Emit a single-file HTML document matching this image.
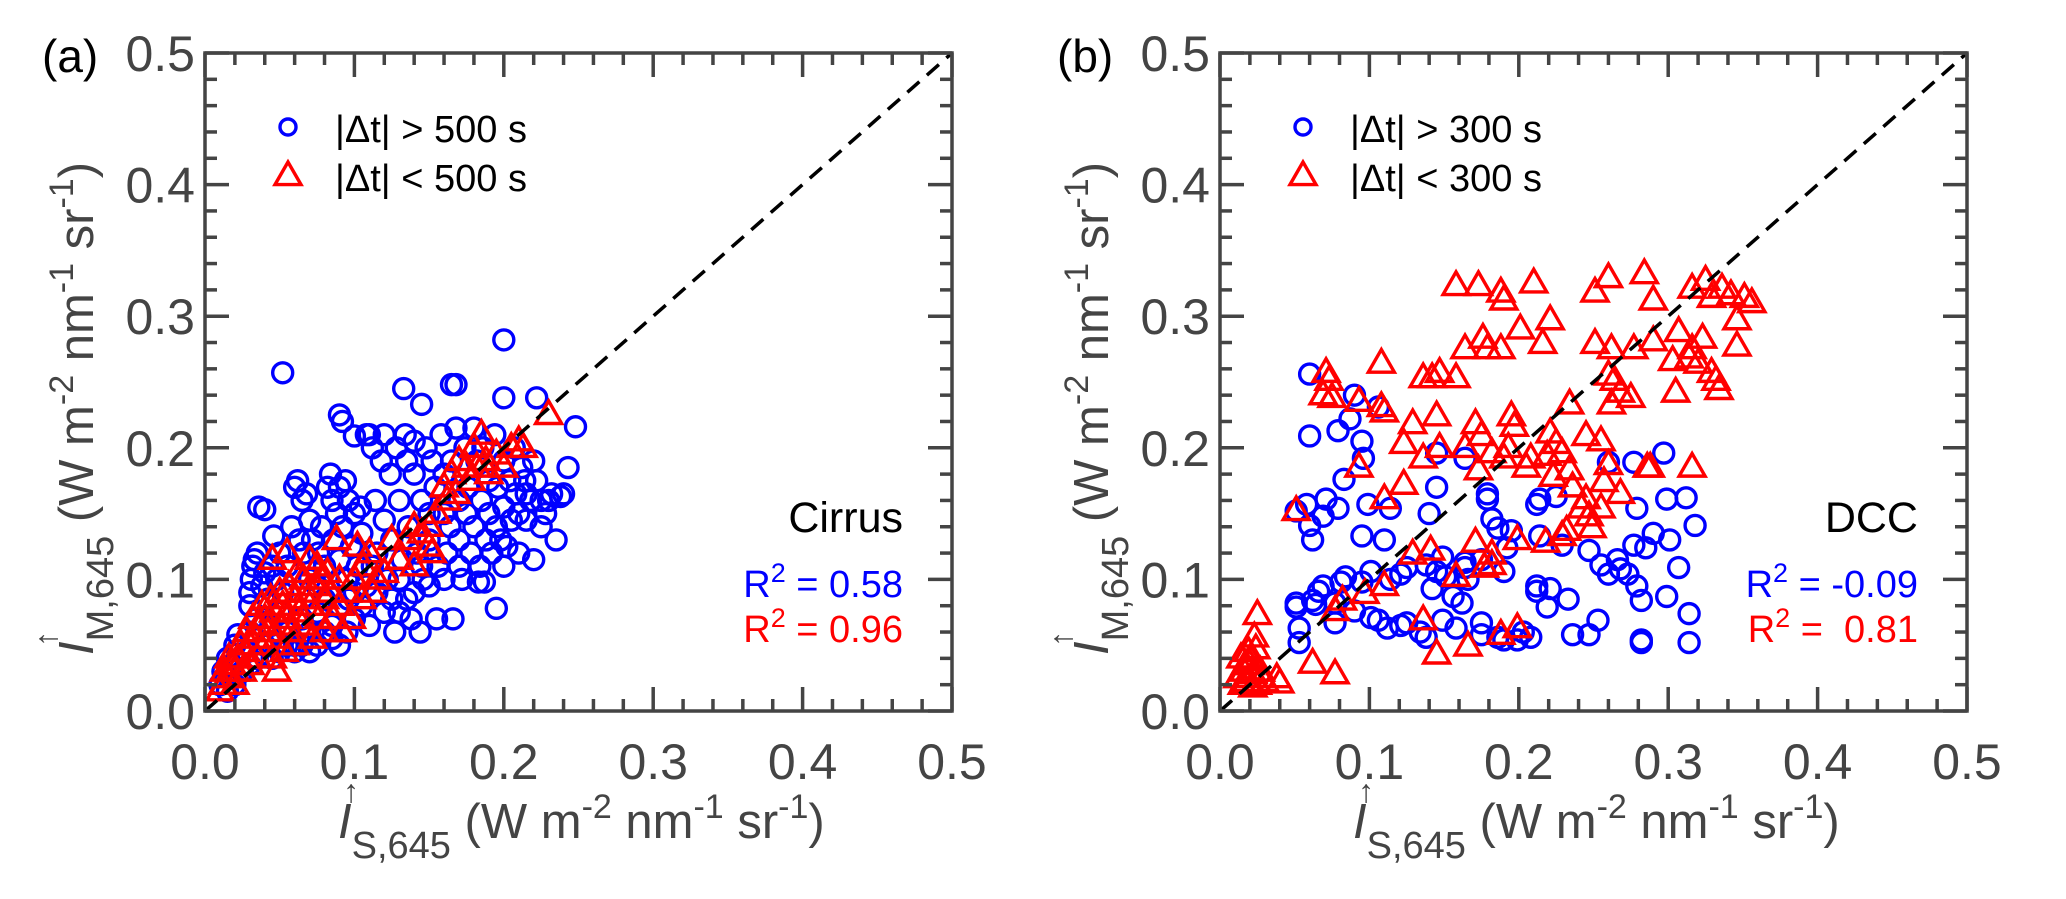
<!DOCTYPE html>
<html><head><meta charset="utf-8"><style>
html,body{margin:0;padding:0;background:#fff;}
svg{display:block;font-family:"Liberation Sans",Arial,sans-serif;}
</style></head><body>
<svg id="fig" width="2066" height="899" viewBox="0 0 2066 899" xmlns="http://www.w3.org/2000/svg"></svg>
<script>
// ---- data ----
const tickValues = [0.0, 0.1, 0.2, 0.3, 0.4, 0.5];
const tickLabels = ["0.0", "0.1", "0.2", "0.3", "0.4", "0.5"];
const cirrusFar = [[0.052,0.257],[0.2,0.282],[0.133,0.245],[0.165,0.248],[0.168,0.248],[0.2,0.238],[0.222,0.238],[0.145,0.233],[0.09,0.225],[0.092,0.22],[0.1,0.209],[0.248,0.216],[0.243,0.185],[0.238,0.163],[0.235,0.13],[0.22,0.115],[0.2,0.11],[0.195,0.078],[0.187,0.098],[0.183,0.098],[0.24,0.165],[0.225,0.16],[0.215,0.165],
[0.01,0.02],[0.012,0.03],[0.015,0.04],[0.018,0.035],[0.02,0.05],[0.022,0.058],[0.025,0.03],[0.028,0.045],[0.03,0.06],[0.03,0.09],[0.031,0.1],[0.032,0.11],[0.033,0.115],[0.03,0.08],[0.034,0.07],[0.035,0.12],[0.036,0.155],[0.04,0.153],[0.038,0.095],[0.04,0.105],[0.042,0.085],[0.044,0.065],[0.045,0.11],[0.046,0.133],[0.048,0.1],[0.05,0.075],[0.05,0.12],[0.052,0.09],[0.055,0.11],[0.055,0.06],[0.058,0.14],[0.06,0.17],[0.062,0.175],[0.063,0.13],[0.065,0.16],[0.066,0.12],[0.068,0.165],[0.07,0.1],[0.07,0.145],[0.072,0.13],[0.075,0.095],[0.076,0.12],[0.078,0.14],[0.08,0.11],[0.082,0.17],[0.084,0.18],[0.085,0.16],[0.086,0.13],[0.088,0.15],[0.09,0.17],[0.09,0.115],[0.092,0.14],[0.094,0.175],[0.095,0.1],[0.096,0.16],[0.098,0.125],[0.1,0.15],[0.1,0.09],[0.102,0.11],[0.104,0.155],[0.105,0.135],[0.108,0.21],[0.11,0.21],[0.112,0.2],[0.114,0.16],[0.115,0.12],[0.118,0.19],[0.12,0.21],[0.12,0.145],[0.122,0.1],[0.124,0.18],[0.125,0.13],[0.127,0.06],[0.128,0.2],[0.13,0.16],[0.13,0.1],[0.132,0.115],[0.134,0.21],[0.135,0.19],[0.136,0.14],[0.138,0.07],[0.14,0.18],[0.14,0.205],[0.142,0.12],[0.144,0.06],[0.145,0.16],[0.146,0.1],[0.148,0.2],[0.15,0.15],[0.15,0.13],[0.152,0.19],[0.154,0.17],[0.155,0.07],[0.156,0.11],[0.158,0.21],[0.16,0.15],[0.16,0.18],[0.162,0.12],[0.164,0.14],[0.165,0.19],[0.166,0.07],[0.168,0.215],[0.17,0.16],[0.17,0.13],[0.172,0.1],[0.174,0.2],[0.175,0.15],[0.176,0.17],[0.178,0.12],[0.18,0.215],[0.18,0.14],[0.182,0.19],[0.184,0.11],[0.185,0.16],[0.186,0.2],[0.188,0.13],[0.19,0.15],[0.19,0.175],[0.192,0.12],[0.194,0.21],[0.195,0.14],[0.196,0.17],[0.198,0.13],[0.2,0.19],[0.2,0.155],[0.202,0.125],[0.204,0.175],[0.205,0.145],[0.207,0.2],[0.208,0.165],[0.21,0.12],[0.21,0.15],[0.212,0.185],[0.214,0.175],[0.215,0.145],[0.218,0.16],[0.22,0.19],[0.222,0.175],[0.225,0.14],[0.228,0.15],[0.23,0.16],[0.232,0.165],
[0.06,0.05],[0.065,0.07],[0.07,0.06],[0.075,0.075],[0.08,0.085],[0.085,0.065],[0.09,0.08],[0.095,0.06],[0.1,0.07],[0.105,0.08],[0.11,0.065],[0.115,0.09],[0.12,0.075],[0.125,0.085],[0.13,0.075],[0.108,0.095],[0.112,0.11],[0.096,0.085],[0.04,0.05],[0.045,0.04],[0.05,0.045],[0.055,0.05],[0.06,0.045],[0.065,0.05],[0.07,0.045],[0.075,0.05],[0.08,0.06],[0.085,0.055],[0.09,0.05],[0.035,0.04],[0.03,0.035],[0.02,0.02],[0.015,0.015],[0.14,0.09],[0.15,0.095],[0.16,0.1],[0.17,0.11],[0.145,0.11],[0.135,0.085]];
const cirrusNear = [[0.01,0.015],[0.012,0.02],[0.013,0.03],[0.015,0.025],[0.016,0.04],[0.018,0.035],[0.02,0.02],[0.02,0.03],[0.022,0.04],[0.024,0.05],[0.025,0.03],[0.027,0.045],[0.028,0.06],[0.03,0.035],[0.03,0.05],[0.032,0.07],[0.034,0.055],[0.035,0.04],[0.036,0.065],[0.038,0.08],[0.04,0.05],[0.04,0.07],[0.042,0.06],[0.044,0.085],[0.045,0.04],[0.046,0.075],[0.048,0.03],[0.048,0.055],[0.05,0.09],[0.05,0.065],[0.052,0.08],[0.053,0.045],[0.055,0.07],[0.056,0.095],[0.058,0.06],[0.06,0.05],[0.06,0.085],[0.062,0.105],[0.063,0.075],[0.065,0.065],[0.066,0.1],[0.068,0.09],[0.07,0.115],[0.07,0.08],[0.072,0.055],[0.074,0.095],[0.075,0.11],[0.076,0.07],[0.078,0.1],[0.08,0.085],[0.08,0.06],[0.082,0.105],[0.084,0.09],[0.086,0.07],[0.088,0.13],[0.09,0.08],[0.09,0.1],[0.092,0.06],[0.095,0.09],[0.098,0.07],[0.1,0.1],[0.102,0.125],[0.105,0.085],[0.106,0.11],[0.11,0.12],[0.112,0.09],[0.115,0.1],[0.12,0.105],[0.045,0.115],[0.055,0.12],[0.125,0.13],[0.13,0.115],[0.135,0.13],[0.14,0.11],[0.145,0.135],[0.15,0.14],[0.152,0.12],[0.155,0.15],[0.16,0.17],[0.162,0.16],[0.165,0.18],[0.168,0.165],[0.17,0.19],[0.175,0.185],[0.178,0.175],[0.18,0.2],[0.182,0.185],[0.185,0.21],[0.188,0.19],[0.19,0.18],[0.195,0.195],[0.2,0.185],[0.205,0.2],[0.21,0.205],[0.213,0.2],[0.23,0.225],[0.15,0.125],[0.14,0.14]];
const dccFar = [[0.06,0.256],[0.06,0.209],[0.09,0.24],[0.106,0.231],[0.079,0.213],[0.087,0.222],[0.095,0.205],[0.096,0.192],[0.083,0.176],[0.051,0.152],[0.058,0.157],[0.06,0.141],[0.062,0.13],[0.071,0.161],[0.069,0.148],[0.079,0.154],[0.099,0.157],[0.114,0.154],[0.095,0.133],[0.11,0.13],[0.145,0.196],[0.145,0.17],[0.14,0.15],[0.164,0.192],[0.179,0.165],[0.179,0.161],[0.182,0.146],[0.186,0.139],[0.195,0.137],[0.212,0.157],[0.214,0.161],[0.225,0.163],[0.214,0.133],[0.229,0.126],[0.26,0.189],[0.277,0.189],[0.297,0.196],[0.279,0.154],[0.299,0.161],[0.312,0.162],[0.318,0.141],[0.29,0.135],[0.285,0.124],[0.301,0.13],[0.277,0.126],[0.247,0.122],[0.255,0.111],[0.266,0.115],[0.268,0.108],[0.273,0.104],[0.26,0.104],[0.279,0.095],[0.282,0.084],[0.307,0.109],[0.299,0.087],[0.314,0.074],[0.314,0.052],[0.282,0.054],[0.282,0.052],[0.253,0.069],[0.247,0.058],[0.236,0.058],[0.233,0.085],[0.219,0.079],[0.221,0.093],[0.212,0.095],[0.212,0.091],[0.208,0.056],[0.199,0.054],[0.19,0.054],[0.203,0.06],[0.186,0.056],[0.175,0.058],[0.175,0.067],[0.158,0.063],[0.149,0.069],[0.138,0.056],[0.134,0.06],[0.125,0.067],[0.121,0.065],[0.112,0.063],[0.106,0.069],[0.101,0.071],[0.09,0.076],[0.077,0.067],[0.077,0.082],[0.084,0.102],[0.081,0.098],[0.095,0.098],[0.101,0.106],[0.114,0.1],[0.121,0.104],[0.125,0.109],[0.138,0.111],[0.145,0.106],[0.149,0.117],[0.151,0.102],[0.142,0.093],[0.156,0.087],[0.162,0.082],[0.164,0.109],[0.166,0.1],[0.164,0.113],[0.175,0.115],[0.19,0.106],[0.192,0.124],[0.051,0.082],[0.051,0.079],[0.053,0.063],[0.053,0.052],[0.062,0.084],[0.066,0.091],[0.069,0.095],[0.064,0.081]];
const dccNear = [[0.158,0.323],[0.173,0.323],[0.188,0.318],[0.19,0.312],[0.21,0.325],[0.164,0.275],[0.176,0.283],[0.179,0.275],[0.188,0.275],[0.201,0.29],[0.221,0.297],[0.216,0.279],[0.26,0.329],[0.251,0.318],[0.284,0.332],[0.29,0.312],[0.251,0.279],[0.262,0.275],[0.277,0.275],[0.29,0.281],[0.307,0.288],[0.316,0.321],[0.325,0.327],[0.329,0.314],[0.336,0.321],[0.342,0.316],[0.351,0.314],[0.356,0.31],[0.346,0.297],[0.346,0.277],[0.323,0.283],[0.316,0.275],[0.314,0.268],[0.303,0.266],[0.32,0.264],[0.329,0.257],[0.332,0.251],[0.334,0.244],[0.305,0.242],[0.26,0.255],[0.264,0.251],[0.268,0.242],[0.275,0.238],[0.262,0.233],[0.071,0.257],[0.073,0.251],[0.069,0.24],[0.075,0.238],[0.108,0.264],[0.093,0.235],[0.108,0.231],[0.11,0.227],[0.136,0.253],[0.142,0.253],[0.147,0.257],[0.158,0.253],[0.129,0.218],[0.145,0.224],[0.123,0.203],[0.136,0.192],[0.147,0.2],[0.164,0.2],[0.171,0.218],[0.175,0.209],[0.182,0.196],[0.193,0.2],[0.195,0.224],[0.197,0.216],[0.19,0.192],[0.208,0.192],[0.205,0.185],[0.221,0.211],[0.225,0.203],[0.229,0.196],[0.219,0.194],[0.234,0.233],[0.245,0.209],[0.255,0.205],[0.234,0.183],[0.223,0.178],[0.236,0.17],[0.245,0.161],[0.242,0.154],[0.255,0.154],[0.257,0.174],[0.26,0.187],[0.268,0.165],[0.286,0.185],[0.288,0.185],[0.316,0.185],[0.093,0.185],[0.123,0.172],[0.11,0.161],[0.173,0.183],[0.247,0.148],[0.249,0.139],[0.232,0.137],[0.229,0.133],[0.199,0.13],[0.218,0.128],[0.171,0.128],[0.182,0.119],[0.182,0.111],[0.177,0.109],[0.141,0.122],[0.129,0.119],[0.158,0.102],[0.051,0.152],[0.11,0.095],[0.097,0.089],[0.082,0.084],[0.077,0.076],[0.136,0.069],[0.145,0.043],[0.166,0.049],[0.188,0.058],[0.199,0.063],[0.062,0.036],[0.077,0.028],[0.038,0.025],[0.04,0.021],[0.025,0.073],[0.023,0.056],[0.024,0.047],[0.021,0.038],[0.012,0.025],[0.015,0.02],[0.016,0.03],[0.018,0.022],[0.02,0.035],[0.022,0.028],[0.025,0.02],[0.027,0.03],[0.03,0.022],[0.014,0.04],[0.019,0.045],[0.022,0.018],[0.028,0.025],[0.017,0.035]];

// ---- drawing ----
const NS = "http://www.w3.org/2000/svg";
const svg = document.getElementById("fig");
const AX = "#444";
function mk(tag, attrs, parent){
  const e = document.createElementNS(NS, tag);
  for (const k in attrs) e.setAttribute(k, attrs[k]);
  (parent||svg).appendChild(e);
  return e;
}
const panels = [
  {id:"a", x0:205, x1:952, y0:711, y1:53, label:"(a)", far:cirrusFar, near:cirrusNear, thr:"500", type:"Cirrus", r1:"0.58", r2:"0.96"},
  {id:"b", x0:1220, x1:1967, y0:711, y1:53, label:"(b)", far:dccFar, near:dccNear, thr:"300", type:"DCC", r1:"-0.09", r2:" 0.81"}
];
function triPts(cx, cy, s){
  const h = s*0.87;
  return (cx)+","+(cy-h*0.62)+" "+(cx-s/2)+","+(cy+h*0.38)+" "+(cx+s/2)+","+(cy+h*0.38);
}
const SUP = '<tspan dy="-20" font-size="34">';
panels.forEach(p=>{
  const g = mk("g", {});
  
  
  const sx = v => p.x0 + (p.x1-p.x0)*v/0.5;
  const sy = v => p.y0 + (p.y1-p.y0)*v/0.5;
  const ptsG = mk("g", {}, g);
  
  
  p.far.forEach(d=>{
    const c = mk("circle", {cx:sx(d[0]), cy:sy(d[1]), r:10, fill:"none", stroke:"#0000ff", "stroke-width":3.4}, ptsG);
    
    
  });
  const triG = mk("g", {}, g);
  
  
  p.near.forEach(d=>{
    const t = mk("polygon", {points:triPts(sx(d[0]), sy(d[1]), 26), fill:"none", stroke:"#ff0000", "stroke-width":3.4}, triG);
    
    
  });
  const l = mk("line", {x1:sx(0), y1:sy(0), x2:sx(0.5), y2:sy(0.5), stroke:"#000", "stroke-width":3.5, "stroke-dasharray":"16,10"}, g);
  
  
  const fr = mk("rect", {x:p.x0, y:p.y1, width:p.x1-p.x0, height:p.y0-p.y1, fill:"none", stroke:AX, "stroke-width":3.5}, g);
  
  
  for (let i=0;i<=25;i++){
    const v = i*0.02, major = (i%5===0), L = major?24:12;
    const X = sx(v), Y = sy(v);
    mk("line",{x1:X,y1:p.y0,x2:X,y2:p.y0-L,stroke:AX,"stroke-width":3.5},g);
    mk("line",{x1:X,y1:p.y1,x2:X,y2:p.y1+L,stroke:AX,"stroke-width":3.5},g);
    mk("line",{x1:p.x0,y1:Y,x2:p.x0+L,y2:Y,stroke:AX,"stroke-width":3.5},g);
    mk("line",{x1:p.x1,y1:Y,x2:p.x1-L,y2:Y,stroke:AX,"stroke-width":3.5},g);
  }
  tickValues.forEach((v,i)=>{
    const tx = mk("text",{x:sx(v), y:779, "text-anchor":"middle", "font-size":50, fill:AX},g);
    tx.textContent = tickLabels[i];
    
    
    const ty = mk("text",{x:p.x0-10, y:sy(v)+18, "text-anchor":"end", "font-size":50, fill:AX},g);
    ty.textContent = tickLabels[i];
    
    
  });
  const pl = mk("text",{x:p.x0-163, y:72, "font-size":46, fill:"#000"},g);
  pl.textContent = p.label;
  
  
  const lg = mk("g",{},g);
  
  
  const lx = p.x0+83;
  mk("circle",{cx:lx, cy:127, r:8, fill:"none", stroke:"#0000ff","stroke-width":3.4},lg);
  mk("polygon",{points:triPts(lx, 176, 26), fill:"none", stroke:"#ff0000","stroke-width":3.4},lg);
  const t1 = mk("text",{x:lx+47, y:142, "font-size":38, fill:"#000"},lg);
  t1.textContent = "|\u0394t| > "+p.thr+" s";
  
  
  const t2 = mk("text",{x:lx+47, y:191, "font-size":38, fill:"#000"},lg);
  t2.textContent = "|\u0394t| < "+p.thr+" s";
  
  
  const ax = p.x1-49;
  const ct = mk("text",{x:ax, y:532, "text-anchor":"end", "font-size":43, fill:"#000"},g);
  ct.textContent = p.type;
  
  
  [[p.r1,"#0000ff",597,"r2-far"],[p.r2,"#ff0000",642,"r2-near"]].forEach(a=>{
    const t = mk("text",{x:ax, y:a[2], "text-anchor":"end", "font-size":38, fill:a[1]},g);
    t.innerHTML = 'R<tspan dy="-15" font-size="27">2</tspan><tspan dy="15"> = '+a[0].replace(' ','\u00a0')+'</tspan>';
    
    
  });
  const xt = mk("text",{x:p.x0+133, y:838, "font-size":49, fill:AX},g);
  xt.innerHTML = '<tspan font-style="italic">I</tspan><tspan dy="20" font-size="38">S,645</tspan><tspan dy="-20"> (W m</tspan>'+SUP+'-2</tspan><tspan dy="20"> nm</tspan>'+SUP+'-1</tspan><tspan dy="20"> sr</tspan>'+SUP+'-1</tspan><tspan dy="20">)</tspan>';
  
  
  const xa = mk("text",{x:p.x0+138, y:802, "font-size":32, fill:AX},g);
  xa.textContent = "\u2191";
  const yt = mk("text",{x:0, y:0, "font-size":49, fill:AX, transform:"translate("+(p.x0-112)+",655) rotate(-90)"},g);
  yt.innerHTML = '<tspan font-style="italic">I</tspan><tspan dy="20" font-size="38">M,645</tspan><tspan dy="-20">  (W m</tspan>'+SUP+'-2</tspan><tspan dy="20"> nm</tspan>'+SUP+'-1</tspan><tspan dy="20"> sr</tspan>'+SUP+'-1</tspan><tspan dy="20">)</tspan>';
  
  
  const ya = mk("text",{x:0, y:0, "font-size":32, fill:AX, transform:"translate("+(p.x0-148)+",647) rotate(-90)"},g);
  ya.textContent = "\u2191";
});
</script>
</body></html>
